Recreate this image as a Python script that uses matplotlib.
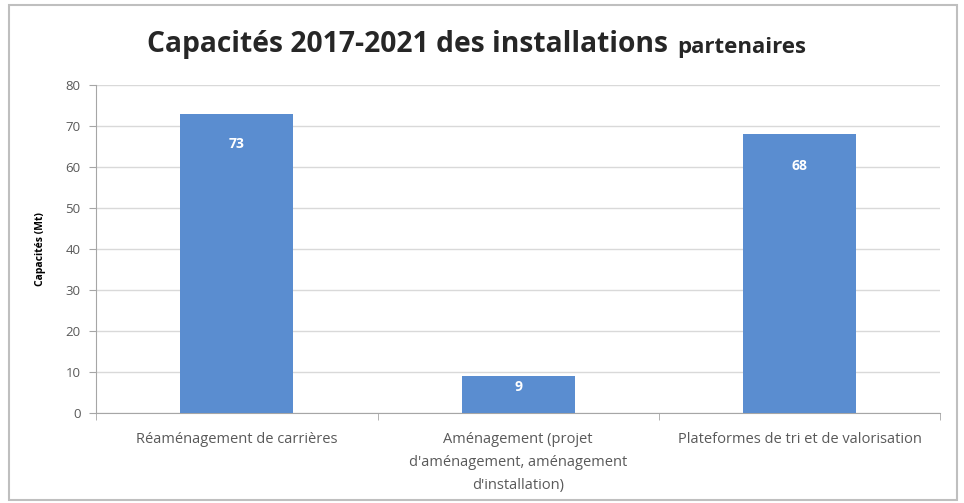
import numpy as np
import matplotlib.pyplot as plt
from matplotlib.patches import Rectangle

# données
categories = ['Réaménagement de carrières',
              'Aménagement (projet\nd\'aménagement, aménagement\nd\'installation)',
              'Plateformes de tri et de valorisation']
capacites = [73, 9, 68]
labels = ['73', '9', '68']

plt.rcParams['font.family'] = ['Open Sans', 'DejaVu Sans']

fig = plt.figure(figsize=(9.64, 5.03), dpi=100)
ax = fig.add_axes([0.0996, 0.179, 0.876, 0.652])

x = np.arange(len(categories))
bars = ax.bar(x, capacites, width=0.4, color='#5A8DD0', zorder=3)

# étiquettes blanches dans les barres
offsets = [-30, -11, -32]
for b, lab, off in zip(bars, labels, offsets):
    ax.annotate(lab, (b.get_x() + b.get_width() / 2, b.get_height()),
                xytext=(0, off), textcoords='offset pixels',
                ha='center', va='center', color='white',
                fontsize=10, fontweight='bold')

ax.set_xlim(-0.5, len(categories) - 0.5)
ax.set_ylim(0, 80)
ax.set_yticks(range(0, 81, 10))
ax.yaxis.grid(True, color='#D9D9D9', linewidth=1, zorder=0)
ax.tick_params(axis='y', colors='#A6A6A6', labelcolor='#595959',
               labelsize=9.5, length=5, direction='out', pad=6)

ax.set_xticks(x)
ax.set_xticklabels(categories, fontsize=10.5, color='#595959', linespacing=1.7)
ax.set_xticks(np.arange(-0.5, len(categories), 1), minor=True)
ax.tick_params(axis='x', which='major', length=0, pad=14)
ax.tick_params(axis='x', which='minor', length=5, color='#A6A6A6')

for s in ['top', 'right']:
    ax.spines[s].set_visible(False)
ax.spines['left'].set_color('#A6A6A6')
ax.spines['bottom'].set_color('#A6A6A6')

ax.set_ylabel('Capacités (Mt)', fontsize=7.5, fontweight='bold', labelpad=14)

fig.text(0.693, 0.911, 'Capacités 2017-2021 des installations', fontsize=20.3,
         fontweight='bold', ha='right', va='center', color='#262626')
fig.text(0.703, 0.906, 'partenaires', fontsize=16,
         fontweight='bold', ha='left', va='center', color='#262626')

# cadre du graphique
fig.patches.append(Rectangle((0.009, 0.006), 0.984, 0.984, transform=fig.transFigure,
                             fill=False, edgecolor='#BFBFBF', linewidth=1.5))

fig.savefig('out.png', dpi=100)
